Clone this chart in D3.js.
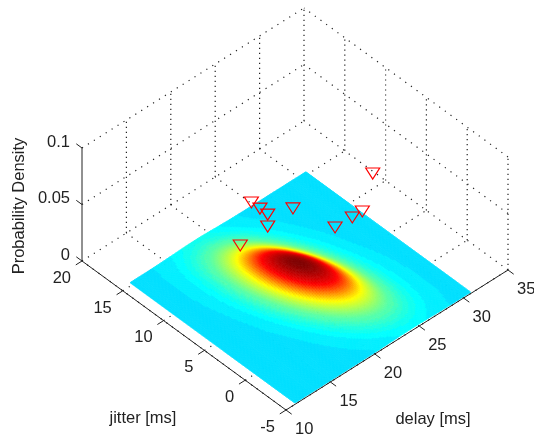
<!DOCTYPE html>
<html lang="en">
<head>
<meta charset="UTF-8">
<title>Probability density</title>
<script src="https://d3js.org/d3.v7.min.js"></script>
<style>
  html,body{margin:0;padding:0;background:#fff;}
  svg{display:block;filter:blur(0.35px);}
  text{font-family:"Liberation Sans",Arial,sans-serif;font-size:16.5px;fill:#222;}
</style>
</head>
<body>
<div id="chart"></div>
<script>
var delayTicks = [10, 15, 20, 25, 30, 35];
var jitterTicks = [-5, 0, 5, 10, 15, 20];
var zTicks = [0, 0.05, 0.1];
var zTickLabels = ["0", "0.05", "0.1"];

// surface samples. one row per delay, jitter ascending, units of 1e-6
var gridDelay = [11, 13, 15, 17, 19, 21, 23, 25, 27, 29, 31];
var gridJitter = [-5, -3, -1, 1, 3, 5, 7, 9, 11, 13, 15];
var densityE6 = [
  [1, 1, 1, 1, 1, 1, 1, 1, 3, 4, 4],
  [1, 1, 1, 1, 2, 9, 24, 48, 71, 76, 59],
  [1, 1, 4, 20, 78, 223, 468, 720, 804, 658, 395],
  [2, 15, 85, 354, 1060, 2320, 3750, 4400, 3790, 2370, 1085],
  [32, 190, 820, 2565, 5950, 10000, 12300, 11100, 7320, 3510, 1235],
  [215, 970, 3220, 7770, 13700, 17690, 16700, 11500, 5810, 2140, 578],
  [595, 2050, 5220, 9640, 13000, 12900, 9330, 4920, 1900, 538, 111],
  [675, 1790, 3470, 4920, 5110, 3870, 2150, 868, 257, 55, 9],
  [315, 642, 953, 1040, 823, 478, 203, 63, 14, 2, 1],
  [61, 95, 108, 90, 55, 24, 8, 2, 1, 1, 1],
  [5, 6, 5, 3, 1, 1, 1, 1, 1, 1, 1]
];
var surfaceDelay = [11, 30.8];
var surfaceJitter = [-5, 15.2];
var surfaceLift = 0.0012;

var markerDelay = [33.06, 23.33, 23.35, 23.32, 22.33, 25.35, 19.10, 26.32, 28.19, 29.29];
var markerJitter = [9.47, 13.75, 12.72, 11.74, 10.66, 10.85, 10.51, 6.75, 6.67, 6.64];
var markerZ = [0.02, 0.02, 0.02, 0.02, 0.02, 0.02, 0.02, 0.02, 0.02, 0.02];

var jetPos = [0, 0.125, 0.375, 0.625, 0.875, 1];
var jetColors = ["#00007f", "#0000ff", "#00ffff", "#ffff00", "#ff0000", "#7f0000"];
// which density reaches which place on the colormap, judged from the colour rings
var colorDensity = [0, 0.008, 0.0134, 0.018];
var colorPlace = [0.34, 0.625, 0.875, 1];

var width = 534, height = 436;
var originX = 286, originY = 410;

var svg = d3.select("#chart").append("svg")
  .attr("width", width)
  .attr("height", height);

// the 3d axes are an affine view, one screen scale per data direction
var delayX = d3.scaleLinear().domain([10, 35]).range([0, 222]);
var delayY = d3.scaleLinear().domain([10, 35]).range([0, -140]);
var jitterX = d3.scaleLinear().domain([-5, 20]).range([0, -204]);
var jitterY = d3.scaleLinear().domain([-5, 20]).range([0, -149]);
var zY = d3.scaleLinear().domain([0, 0.1]).range([0, -113]);

function px(d, j) { return originX + delayX(d) + jitterX(j); }
function py(d, j, z) { return originY + delayY(d) + jitterY(j) + zY(z); }

var jet = d3.scaleLinear().domain(jetPos).range(jetColors);
var place = d3.scaleLinear().domain(colorDensity).range(colorPlace).clamp(true);
function colorOf(f) {
  var t = place(f);
  // the 64 colormap entries only show as bands in the cyan part
  if (t < 0.45) t = (Math.floor(t * 64) + 1) / 64;
  return jet(t);
}

// shading interp: catmull-rom between samples, on the log so the tails stay positive
function cubic(a, b, c, d, t) {
  return b + 0.5 * t * (c - a + t * (2 * a - 5 * b + 4 * c - d + t * (3 * (b - c) + d - a)));
}
var logGrid = densityE6.map(function(r) { return r.map(Math.log); });
function at(i, k) {
  i = Math.max(0, Math.min(gridDelay.length - 1, i));
  k = Math.max(0, Math.min(gridJitter.length - 1, k));
  return logGrid[i][k];
}
function density(d, j) {
  var fi = (d - gridDelay[0]) / (gridDelay[1] - gridDelay[0]);
  var fk = (j - gridJitter[0]) / (gridJitter[1] - gridJitter[0]);
  var i = Math.min(gridDelay.length - 2, Math.floor(fi));
  var k = Math.min(gridJitter.length - 2, Math.floor(fk));
  var ti = fi - i, tk = fk - k;
  var col = [-1, 0, 1, 2].map(function(o) {
    return cubic(at(i + o, k - 1), at(i + o, k), at(i + o, k + 1), at(i + o, k + 2), tk);
  });
  return Math.exp(cubic(col[0], col[1], col[2], col[3], ti)) * 1e-6;
}

// grid
var grid = svg.append("g").attr("fill", "none").attr("stroke", "#222").attr("stroke-width", 1.2);
function seg(x1, y1, x2, y2, dash) {
  grid.append("line")
    .attr("x1", x1).attr("y1", y1).attr("x2", x2).attr("y2", y2)
    .attr("stroke-dasharray", dash);
}
var jTop = jitterTicks[jitterTicks.length - 1], jBot = jitterTicks[0];
var dTop = delayTicks[delayTicks.length - 1], dBot = delayTicks[0];
var zTop = zTicks[zTicks.length - 1];

delayTicks.forEach(function(d) {
  seg(px(d, jBot), py(d, jBot, 0), px(d, jTop), py(d, jTop, 0), "1.2 5.8");
  if (d > dBot) seg(px(d, jTop), py(d, jTop, 0), px(d, jTop), py(d, jTop, zTop), "1.2 3.8");
});
jitterTicks.forEach(function(j) {
  seg(px(dBot, j), py(dBot, j, 0), px(dTop, j), py(dTop, j, 0), "1.2 5.8");
  if (j < jTop) seg(px(dTop, j), py(dTop, j, 0), px(dTop, j), py(dTop, j, zTop), "1.2 3.8");
});
zTicks.forEach(function(z) {
  if (z === 0) return;
  seg(px(dBot, jTop), py(dBot, jTop, z), px(dTop, jTop), py(dTop, jTop, z), "1.2 5.8");
  seg(px(dTop, jBot), py(dTop, jBot, z), px(dTop, jTop), py(dTop, jTop, z), "1.2 5.8");
});

// surface, back to front
var steps = 120, cells = [];
var sd = d3.scaleLinear().domain([0, steps]).range([surfaceDelay[1], surfaceDelay[0]]);
var sj = d3.scaleLinear().domain([0, steps]).range([surfaceJitter[1], surfaceJitter[0]]);
d3.range(steps).forEach(function(a) {
  d3.range(steps).forEach(function(b) {
    cells.push({
      d: [sd(a), sd(a + 1)],
      j: [sj(b), sj(b + 1)]
    });
  });
});
function cellPath(c) {
  var pts = [[c.d[0], c.j[0]], [c.d[1], c.j[0]], [c.d[1], c.j[1]], [c.d[0], c.j[1]]];
  return "M" + pts.map(function(p) {
    return px(p[0], p[1]).toFixed(2) + "," + py(p[0], p[1], surfaceLift + density(p[0], p[1])).toFixed(2);
  }).join("L") + "Z";
}
function cellColor(c) {
  return colorOf(density((c.d[0] + c.d[1]) / 2, (c.j[0] + c.j[1]) / 2));
}
svg.append("g").selectAll("path")
  .data(cells)
  .enter().append("path")
  .attr("d", cellPath)
  .attr("fill", cellColor)
  .attr("stroke", cellColor)
  .attr("stroke-width", 0.8);

// axes
var axes = svg.append("g").attr("stroke", "#222").attr("stroke-width", 1).attr("fill", "none");
function solid(x1, y1, x2, y2) {
  axes.append("line").attr("x1", x1).attr("y1", y1).attr("x2", x2).attr("y2", y2);
}
solid(px(dBot, jTop), py(dBot, jTop, 0), px(dBot, jTop), py(dBot, jTop, zTop));
solid(px(dBot, jTop), py(dBot, jTop, 0), px(dBot, jBot), py(dBot, jBot, 0));
solid(px(dBot, jBot), py(dBot, jBot, 0), px(dTop, jBot), py(dTop, jBot, 0));

var tickD = 0.7, tickJ = 0.7;
delayTicks.forEach(function(d) {
  var x = px(d, jBot), y = py(d, jBot, 0);
  solid(x, y, px(d, jBot - tickJ), py(d, jBot - tickJ, 0));
  svg.append("text").attr("x", x + 9).attr("y", y + 18).attr("dy", "0.35em").text(d);
});
jitterTicks.forEach(function(j) {
  var x = px(dBot, j), y = py(dBot, j, 0);
  solid(x, y, px(dBot - tickD, j), py(dBot - tickD, j, 0));
  svg.append("text").attr("x", x - 11).attr("y", y + 16).attr("dy", "0.35em")
    .attr("text-anchor", "end").text(j);
});
zTicks.forEach(function(z, i) {
  var x = px(dBot, jTop), y = py(dBot, jTop, z);
  solid(x, y, px(dBot, jTop + tickJ), py(dBot, jTop + tickJ, z));
  svg.append("text").attr("x", x - 12).attr("y", y - 7).attr("dy", "0.35em")
    .attr("text-anchor", "end").text(zTickLabels[i]);
});

svg.append("text").attr("x", 143).attr("y", 417).attr("dy", "0.35em")
  .attr("text-anchor", "middle").text("jitter [ms]");
svg.append("text").attr("x", 433).attr("y", 418).attr("dy", "0.35em")
  .attr("text-anchor", "middle").text("delay [ms]");
svg.append("text").attr("transform", "translate(18,206) rotate(-90)").attr("dy", "0.35em")
  .attr("text-anchor", "middle").text("Probability Density");

// measured points
svg.append("g").selectAll("path")
  .data(markerDelay)
  .enter().append("path")
  .attr("transform", function(d, i) {
    return "translate(" + px(d, markerJitter[i]) + "," + py(d, markerJitter[i], markerZ[i]) + ")";
  })
  .attr("d", "M-7,-4L7,-4L0,7Z")
  .attr("fill", "none")
  .attr("stroke", "#f00")
  .attr("stroke-width", 1.2);
</script>
</body>
</html>
